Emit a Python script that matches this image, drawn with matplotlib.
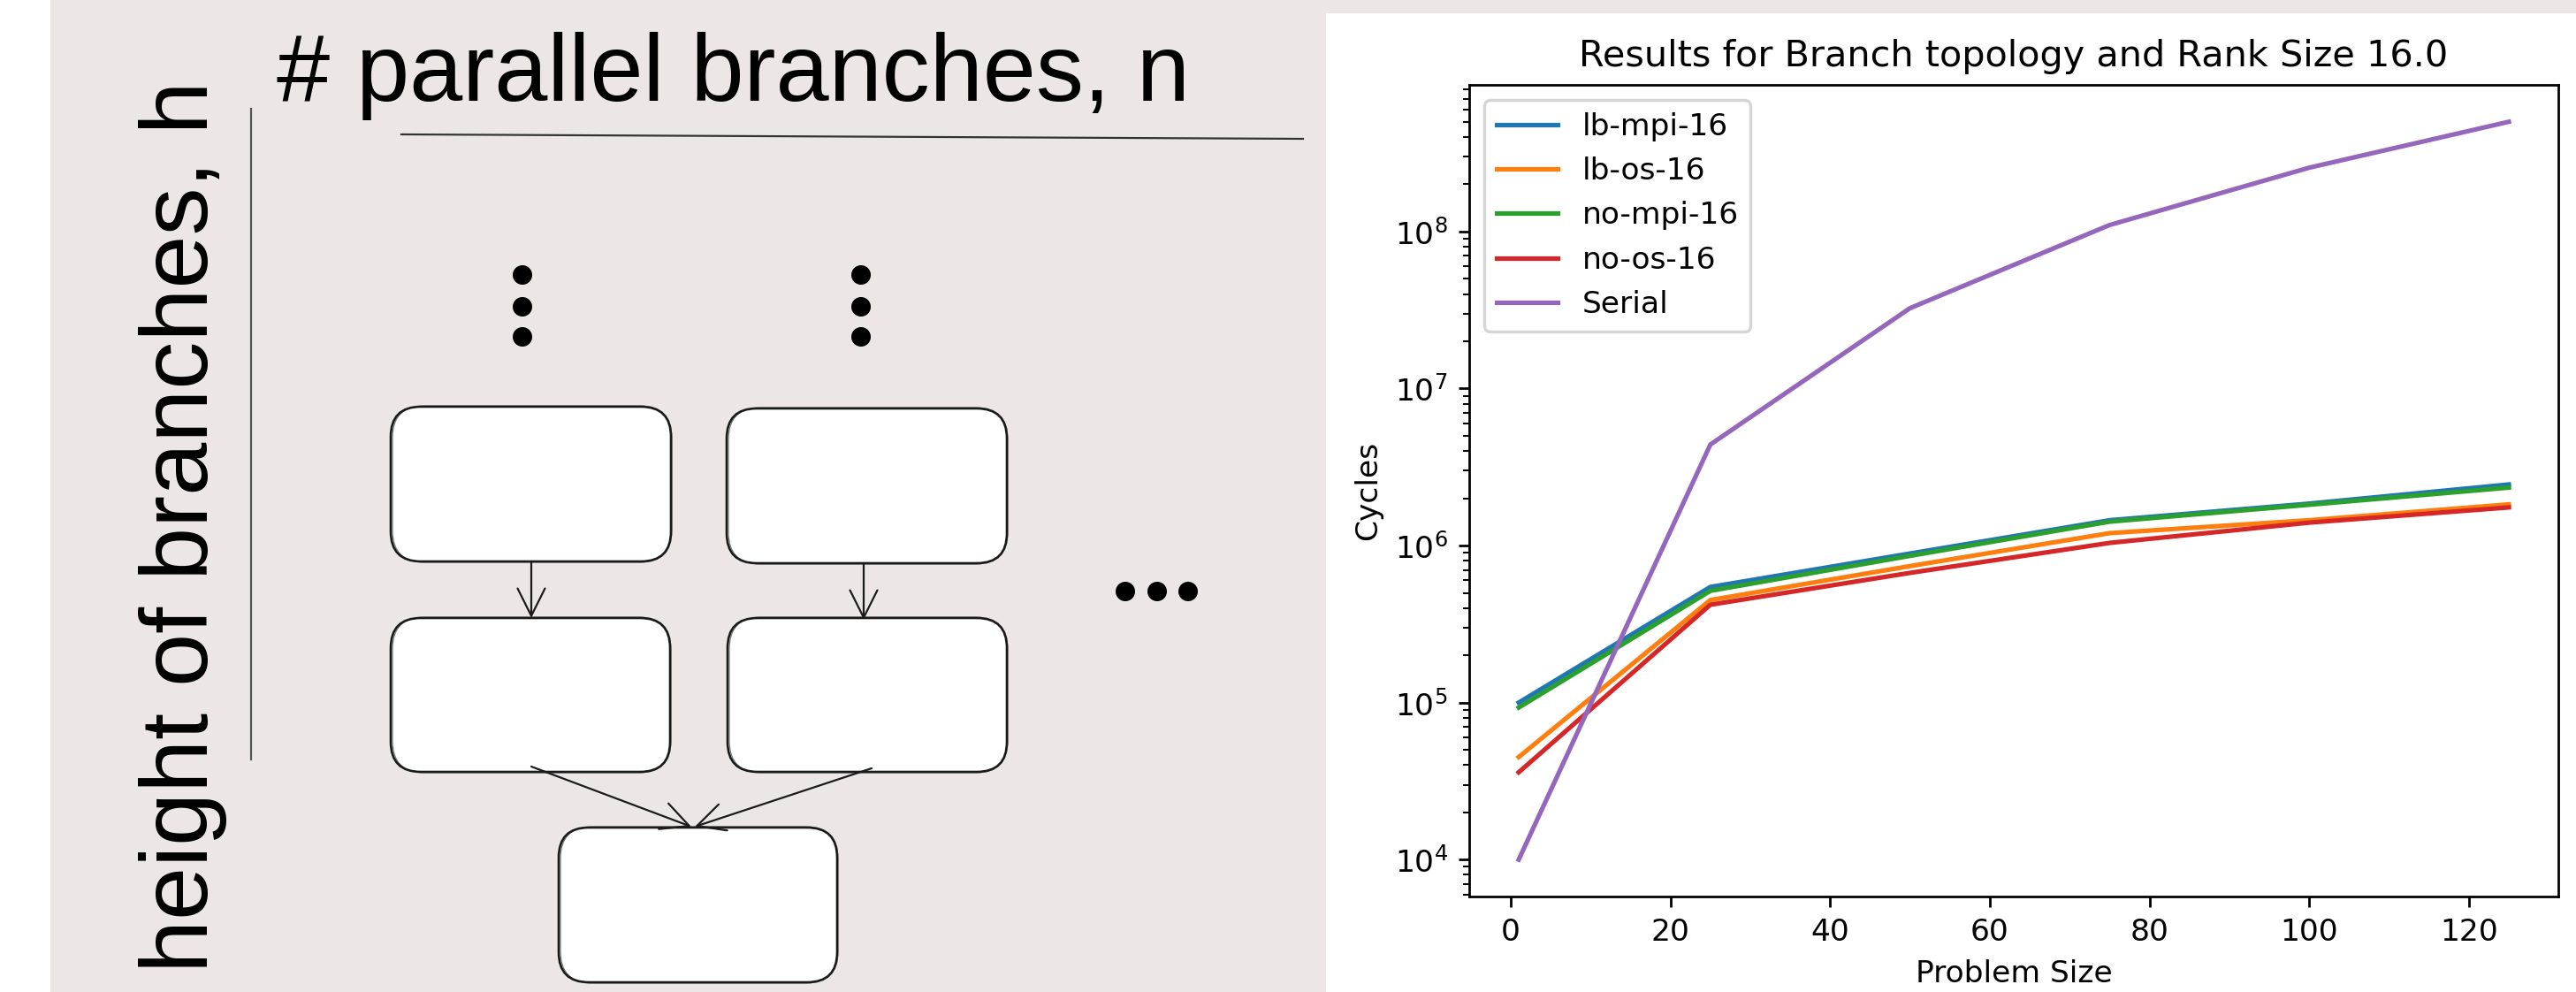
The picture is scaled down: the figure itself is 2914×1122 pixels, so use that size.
import matplotlib
matplotlib.use("Agg")
import matplotlib.pyplot as plt
from matplotlib.patches import FancyBboxPatch, Circle, Rectangle

# ---- data ----
problem_size = [1, 25, 50, 75, 100, 125]
lb_mpi = [1.0e5, 5.45e5, 8.9e5, 1.45e6, 1.85e6, 2.45e6]
lb_os = [4.5e4, 4.5e5, 7.4e5, 1.2e6, 1.45e6, 1.83e6]
no_mpi = [9.3e4, 5.15e5, 8.6e5, 1.42e6, 1.82e6, 2.34e6]
no_os = [3.6e4, 4.2e5, 6.7e5, 1.04e6, 1.4e6, 1.75e6]
serial = [1.0e4, 4.4e6, 3.25e7, 1.1e8, 2.55e8, 5.0e8]
series_names = ["lb-mpi-16", "lb-os-16", "no-mpi-16", "no-os-16", "Serial"]

# ---- figure (pixel sized) ----
W, H = 2914, 1122
DPI = 248
fig = plt.figure(figsize=(W / DPI, H / DPI), dpi=DPI, facecolor="white")

def px2pt(p):
    return p * 72.0 / DPI

bg = "#ece6e6"
ink = "#1a1a1a"

# left sketch panel, drawn in pixel coordinates
sk = fig.add_axes([0, 0, 1, 1], zorder=0)
sk.set_xlim(0, W)
sk.set_ylim(H, 0)
sk.axis("off")
sk.add_patch(Rectangle((57, 0), 1500 - 57, H, fc=bg, ec="none"))
sk.add_patch(Rectangle((1500, 0), W - 1500, 15, fc=bg, ec="none"))

font = "Liberation Sans"
fs = px2pt(108)
sk.text(313, 114, "# parallel branches, n", family=font, fontsize=fs,
        ha="left", va="baseline", color="black")
sk.text(235, 1100, "height of branches, h", family=font, fontsize=fs,
        rotation=90, rotation_mode="anchor", ha="left", va="baseline",
        color="black")

sk.plot([454, 1474], [152, 157], color="#333333", lw=px2pt(2.2))
sk.plot([284, 284], [123, 859], color="#555555", lw=px2pt(2.2))

# vertical ellipsis above each branch, horizontal one on the right
for cx in (591, 974):
    for cy in (311, 347, 381):
        sk.add_patch(Circle((cx, cy), 11, fc="black", ec="none"))
for cx in (1273, 1309, 1344):
    sk.add_patch(Circle((cx, 669), 11, fc="black", ec="none"))

boxes = [(442, 460, 317, 175), (822, 462, 317, 175),
         (442, 699, 316, 174), (823, 699, 316, 174),
         (632, 936, 315, 175)]
for bx, by, bw, bh in boxes:
    sk.add_patch(FancyBboxPatch((bx, by), bw, bh,
                                boxstyle="round,pad=0,rounding_size=34",
                                fc="white", ec=ink, lw=px2pt(2.6)))
    sk.add_patch(FancyBboxPatch((bx + 2, by - 1), bw - 1, bh + 2,
                                boxstyle="round,pad=0,rounding_size=36",
                                fc="none", ec=ink, lw=px2pt(1.2), alpha=0.6))

arrows = [((601, 635), (601, 699)), ((977, 637), (977, 701)),
          ((601, 867), (782, 935)), ((986, 869), (786, 935))]
for (x0, y0), (x1, y1) in arrows:
    sk.annotate("", xy=(x1, y1), xytext=(x0, y0),
                arrowprops=dict(arrowstyle="->,head_length=0.9,head_width=0.45",
                                color=ink, lw=px2pt(2.2), mutation_scale=10,
                                shrinkA=0, shrinkB=0))

# ---- results chart ----
left, right, top, bottom = 1662, 2894, 96, 1014
ax = fig.add_axes([left / W, (H - bottom) / H, (right - left) / W, (bottom - top) / H],
                  zorder=2)
for name, ys in zip(series_names, [lb_mpi, lb_os, no_mpi, no_os, serial]):
    ax.plot(problem_size, ys, label=name)
ax.set_yscale("log")
ax.set_title("Results for Branch topology and Rank Size 16.0")
ax.set_xlabel("Problem Size")
ax.set_ylabel("Cycles")
ax.legend(loc="upper left")

fig.savefig("out.png", dpi=DPI, facecolor="white")
